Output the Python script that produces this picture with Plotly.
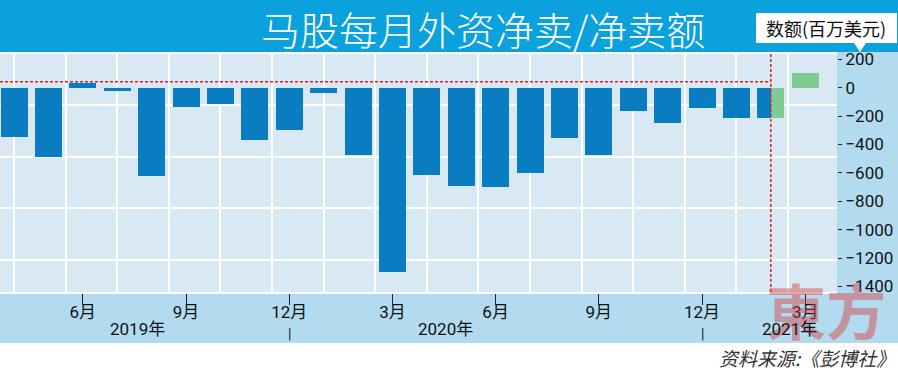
import plotly.graph_objects as go

# ---------------- data ----------------
months = ["2019-04", "2019-05", "2019-06", "2019-07", "2019-08", "2019-09",
          "2019-10", "2019-11", "2019-12", "2020-01", "2020-02", "2020-03",
          "2020-04", "2020-05", "2020-06", "2020-07", "2020-08", "2020-09",
          "2020-10", "2020-11", "2020-12", "2021-01", "2021-02", "2021-03"]
values = [-345, -486, 36, -20, -619, -133, -114, -370, -295, -35, -476, -1296,
          -614, -692, -701, -603, -356, -474, -161, -250, -144, -211, -215, 106]
# month split by the red divider (left half blue, right half green)
split_month = "2021-02"

tick_months = ["2019-06", "2019-09", "2019-12", "2020-03",
               "2020-06", "2020-09", "2020-12", "2021-03"]
tick_text = ["6月", "9月", "12月", "3月", "6月", "9月", "12月", "3月"]

year_labels = ["2019年", "2020年", "2021年"]
year_label_pos = [3.6, 12.55, 22.55]
year_sep_months = ["2019-12", "2020-12"]

y_ticks = [200, 0, -200, -400, -600, -800, -1000, -1200, -1400]
ref_level = 43

title_text = "马股每月外资净卖/净卖额"
unit_text = "数额(百万美元)"
source_text = "资料来源:《彭博社》"
watermark_text = "東方"

# ---------------- style ----------------
BLUE = "#0a7dc2"
GREEN = "#80cb93"
TITLE_BG = "#0ba1dc"
BAND_BG = "#b3dbf0"
PLOT_BG = "#d8e9f4"
RED = "#d3232b"
NUM_FONT = "Roboto, Noto Sans CJK SC, sans-serif"
CJK_FONT = "Noto Sans CJK SC"

W, H = 898, 372
ML, MR, MT, MB = 0, 61, 52, 80
PW, PH = W - ML - MR, H - MT - MB

x = list(range(len(months)))
split_i = months.index(split_month)
bw = 0.785

fig = go.Figure()
blue_x = [i for i in x if i < split_i]
fig.add_trace(go.Bar(x=blue_x, y=[values[i] for i in blue_x], width=bw,
                     marker=dict(color=BLUE, line=dict(width=0))))
fig.add_trace(go.Bar(x=[split_i], y=[values[split_i]], width=bw / 2, offset=-bw / 2,
                     marker=dict(color=BLUE, line=dict(width=0))))
fig.add_trace(go.Bar(x=[split_i], y=[values[split_i]], width=bw / 2, offset=0,
                     marker=dict(color=GREEN, line=dict(width=0))))
green_x = [i for i in x if i > split_i]
fig.add_trace(go.Bar(x=green_x, y=[values[i] for i in green_x], width=bw,
                     marker=dict(color=GREEN, line=dict(width=0))))

x_range = [-0.407, 23.924]
y_range = [-1439, 252]


def px_x(p):
    return (p - ML) / PW


def px_y(p):
    return (H - MB - p) / PH


shapes = [
    dict(type="rect", xref="paper", yref="paper", x0=px_x(0), x1=px_x(W),
         y0=px_y(MT), y1=px_y(0), fillcolor=TITLE_BG, line=dict(width=0), layer="below"),
    dict(type="rect", xref="paper", yref="paper", x0=px_x(0), x1=px_x(W),
         y0=px_y(H), y1=px_y(343), fillcolor="white", line=dict(width=0), layer="below"),
    dict(type="path", xref="paper", yref="paper",
         path=(f"M {px_x(756)} {px_y(13)} L {px_x(897)} {px_y(13)} L {px_x(897)} {px_y(43)} "
               f"L {px_x(866)} {px_y(43)} L {px_x(860)} {px_y(52)} L {px_x(854)} {px_y(43)} "
               f"L {px_x(756)} {px_y(43)} Z"),
         fillcolor="white", line=dict(width=0), layer="above"),
    dict(type="line", xref="x", yref="y", x0=x_range[0], x1=split_i, y0=ref_level, y1=ref_level,
         line=dict(color=RED, width=1.5, dash="3px,2px")),
    dict(type="line", xref="x", yref="paper", x0=split_i, x1=split_i, y0=0, y1=1,
         line=dict(color=RED, width=1.5, dash="3px,2px")),
]

annotations = [
    dict(text=title_text, xref="paper", yref="paper", x=px_x(483), y=px_y(28),
         showarrow=False, xanchor="center", yanchor="middle",
         font=dict(family=CJK_FONT, size=39, color="white", weight=300)),
    dict(text=unit_text, xref="paper", yref="paper", x=px_x(826), y=px_y(28),
         showarrow=False, xanchor="center", yanchor="middle",
         font=dict(family=CJK_FONT, size=18, color="#111111")),
    dict(text=source_text, xref="paper", yref="paper", x=px_x(897), y=px_y(357),
         showarrow=False, xanchor="right", yanchor="middle",
         font=dict(family=CJK_FONT, size=19, color="#333333", style="italic")),
    dict(text=watermark_text, xref="paper", yref="paper", x=px_x(826), y=px_y(308),
         showarrow=False, xanchor="center", yanchor="middle",
         font=dict(family=CJK_FONT, size=60, color="rgba(214,60,60,0.45)", weight="bold")),
]
for lab, pos in zip(year_labels, year_label_pos):
    annotations.append(dict(text=lab, xref="x", yref="paper", x=pos, y=px_y(329),
                            showarrow=False, xanchor="center", yanchor="middle",
                            font=dict(family=NUM_FONT, size=17, color="#111111")))
for m in year_sep_months:
    annotations.append(dict(text="|", xref="x", yref="paper", x=months.index(m), y=px_y(334),
                            showarrow=False, xanchor="center", yanchor="middle",
                            font=dict(family=NUM_FONT, size=14, color="#111111")))

fig.update_layout(
    width=W, height=H, autosize=False,
    margin=dict(l=ML, r=MR, t=MT, b=MB, pad=0),
    paper_bgcolor=BAND_BG, plot_bgcolor=PLOT_BG,
    barmode="overlay", bargap=0, showlegend=False,
    shapes=shapes, annotations=annotations,
    xaxis=dict(range=x_range, tickmode="array",
               tickvals=[months.index(m) for m in tick_months], ticktext=tick_text,
               ticks="outside", ticklen=11, tickwidth=1, tickcolor="#222222",
               ticklabelstandoff=-7,
               tickfont=dict(family=NUM_FONT, size=17, color="#111111"),
               showgrid=False, zeroline=False,
               showline=True, linecolor="white", linewidth=2,
               minor=dict(tick0=0, dtick=1.5, showgrid=True, gridcolor="white",
                          gridwidth=2, ticks="")),
    yaxis=dict(range=y_range, side="right", tickmode="array", tickvals=y_ticks,
               ticks="outside", ticklen=4, tickwidth=1, tickcolor="#222222",
               tickfont=dict(family=NUM_FONT, size=17, color="#111111"),
               showgrid=False, zeroline=False,
               minor=dict(tick0=-121, dtick=364, showgrid=True, gridcolor="white",
                          gridwidth=2, ticks="")),
)

fig.write_html("out.html", config={"displayModeBar": False},
               post_script="document.body.style.margin='0';document.body.style.overflow='hidden';")
